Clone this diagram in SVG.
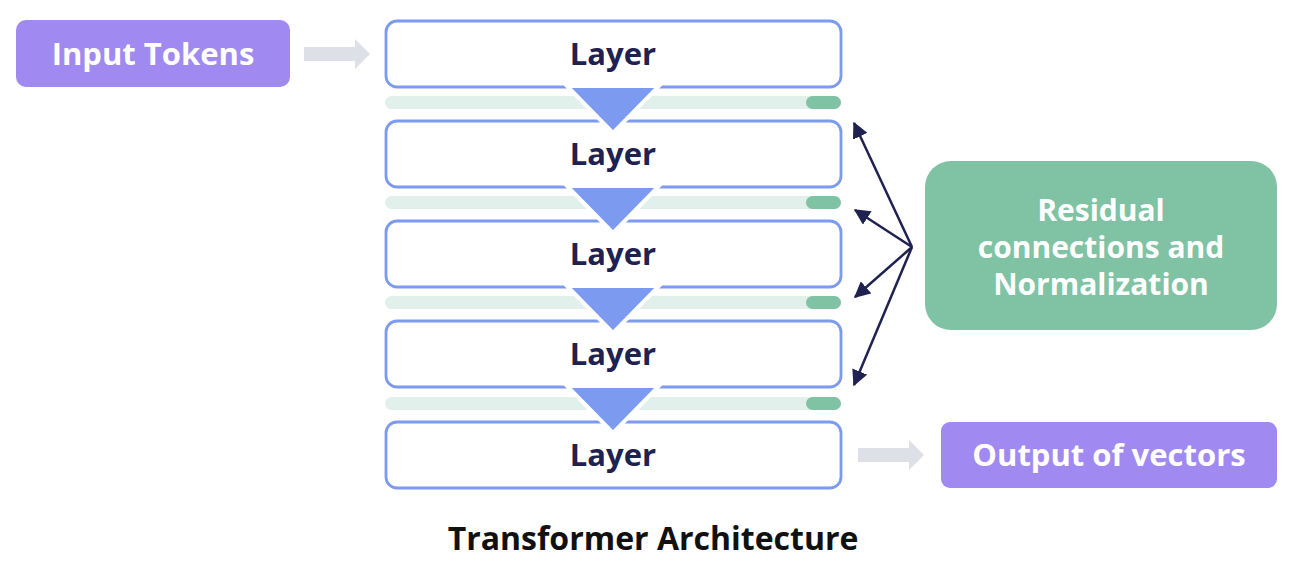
<svg xmlns="http://www.w3.org/2000/svg" width="1294" height="582" viewBox="0 0 1294 582">
<defs>
<style>
.txt{font-family:"Open Sans","Noto Sans","Liberation Sans",sans-serif;font-weight:700;font-size:31px;text-anchor:middle;dominant-baseline:central}
.layer rect{fill:#fff;stroke:#7b9af0;stroke-width:2.8}
.layer text{fill:#1f2150}
.purple{fill:#a08af2}
.white{fill:#fff}
.bar{fill:#e2f0eb}
.pill{fill:#80c2a4}
.tri{fill:#7b9af0;stroke:#fff;stroke-width:4;stroke-linejoin:miter}
.garrow{fill:#dde0e6}
.conn{stroke:#1f2150;stroke-width:2.5;fill:none;marker-end:url(#ah)}
</style>
<marker id="ah" viewBox="0 0 12 12" refX="11" refY="6" markerWidth="16" markerHeight="16" markerUnits="userSpaceOnUse" orient="auto">
<path d="M0,0 L12,6 L0,12 Z" fill="#1f2150"/>
</marker>
</defs>
<rect width="1294" height="582" fill="#fff"/>

<g id="input-tokens">
<rect x="16" y="20" width="274" height="67" rx="10" class="purple"/>
<text x="153" y="53" class="txt white">Input Tokens</text>
</g>

<g id="bars">
<rect x="385" y="96" width="456" height="13" rx="6.5" class="bar"/>
<rect x="806" y="96" width="35" height="13" rx="6.5" class="pill"/>
<rect x="385" y="196" width="456" height="13" rx="6.5" class="bar"/>
<rect x="806" y="196" width="35" height="13" rx="6.5" class="pill"/>
<rect x="385" y="296" width="456" height="13" rx="6.5" class="bar"/>
<rect x="806" y="296" width="35" height="13" rx="6.5" class="pill"/>
<rect x="385" y="397" width="456" height="13" rx="6.5" class="bar"/>
<rect x="806" y="397" width="35" height="13" rx="6.5" class="pill"/>
</g>

<g id="layer1" class="layer">
<rect x="386" y="21" width="455" height="66" rx="11"/>
<text x="613" y="53" class="txt">Layer</text>
</g>
<g id="layer2" class="layer">
<rect x="386" y="121" width="455" height="66" rx="11"/>
<text x="613" y="153" class="txt">Layer</text>
</g>
<g id="layer3" class="layer">
<rect x="386" y="221" width="455" height="66" rx="11"/>
<text x="613" y="253" class="txt">Layer</text>
</g>
<g id="layer4" class="layer">
<rect x="386" y="321" width="455" height="66" rx="11"/>
<text x="613" y="353" class="txt">Layer</text>
</g>
<g id="layer5" class="layer">
<rect x="386" y="422" width="455" height="66" rx="11"/>
<text x="613" y="454" class="txt">Layer</text>
</g>

<g id="flow-triangles">
<polygon class="tri" points="567,86 659,86 613,133"/>
<polygon class="tri" points="567,186 659,186 613,233"/>
<polygon class="tri" points="567,286 659,286 613,333"/>
<polygon class="tri" points="567,386 659,386 613,433"/>
</g>

<g id="residual">
<rect x="925" y="161" width="352" height="169" rx="26" class="pill"/>
<text x="1101" y="209" class="txt white" style="font-size:30px">Residual</text>
<text x="1101" y="246" class="txt white" style="font-size:30px">connections and</text>
<text x="1101" y="283" class="txt white" style="font-size:30px">Normalization</text>
</g>

<g id="output">
<rect x="941" y="422" width="336" height="66" rx="9" class="purple"/>
<text x="1109" y="454" class="txt white">Output of vectors</text>
</g>

<g id="connectors">
<polygon class="garrow" points="304,47 355,47 355,39 370,54 355,69 355,61 304,61"/>
<polygon class="garrow" points="858,448 909,448 909,440 924,455 909,470 909,462 858,462"/>
<line class="conn" x1="912" y1="247" x2="854" y2="123"/>
<line class="conn" x1="912" y1="247" x2="855" y2="210"/>
<line class="conn" x1="912" y1="247" x2="855" y2="297"/>
<line class="conn" x1="912" y1="247" x2="854" y2="385"/>
</g>

<g id="title">
<text x="653" y="537" class="txt" style="fill:#111;font-size:32px">Transformer Architecture</text>
</g>
</svg>
